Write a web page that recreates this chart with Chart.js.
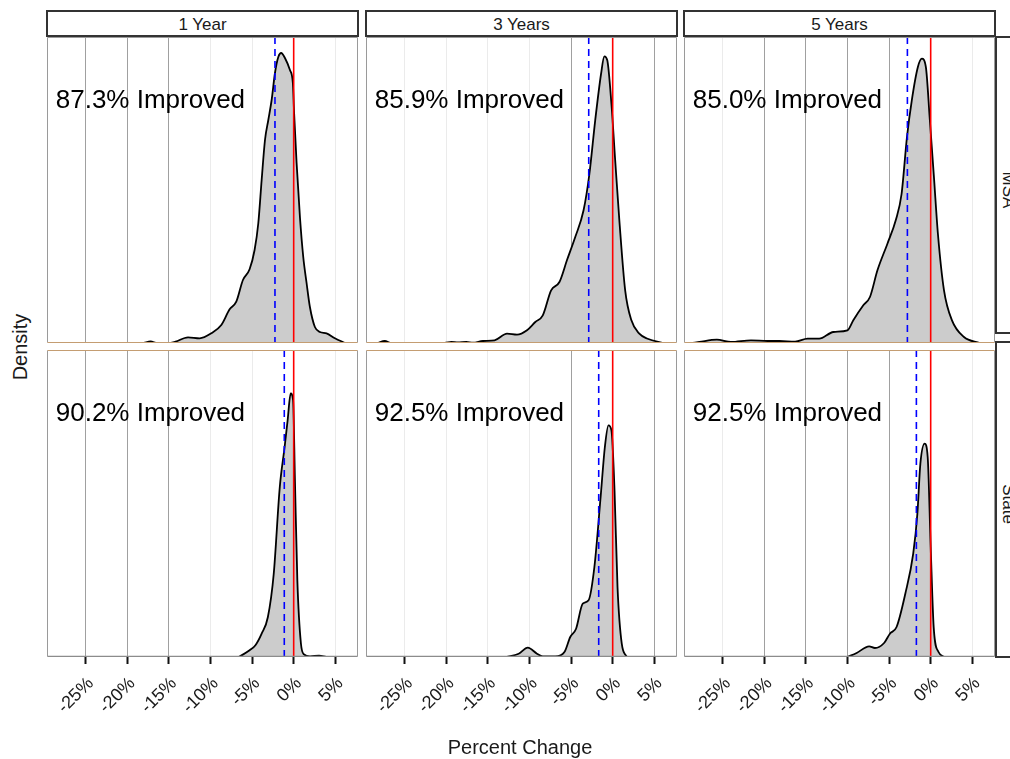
<!DOCTYPE html>
<html>
<head>
<meta charset="utf-8">
<title>Percent Change Density</title>
<script src="https://cdn.jsdelivr.net/npm/chart.js@4.4.1/dist/chart.umd.min.js"></script>
<style>
  html, body { margin: 0; padding: 0; background: #fff; }
  body {
    position: relative; width: 1010px; height: 759px; overflow: hidden;
    font-family: "Liberation Sans", Arial, sans-serif; color: #1a1a1a;
  }
  canvas, .strip, .rstrip, .txt { position: absolute; }
  .strip {
    top: 10px; height: 27px; box-sizing: border-box; border: 2px solid #333;
    background: #fff; font-size: 17px; line-height: 25px; text-align: center;
  }
  .rstrip { left: 995px; width: 30px; box-sizing: border-box; border: 2px solid #333; background: #fff; }
  .txt { white-space: nowrap; text-align: center; }
</style>
</head>
<body>
<script>
// Facet labels and shared axis values
var periods = ['1 Year', '3 Years', '5 Years'];
var regions = ['MSA', 'State'];
var xTicks = [-25, -20, -15, -10, -5, 0, 5];
var improvedPct = [87.3, 85.9, 85.0, 90.2, 92.5, 92.5];
var meanChange = [-2.25, -2.88, -2.80, -1.13, -1.68, -1.72];

// Density curves, one x/density pair per panel (row MSA, then State)
var msa1x = [-18.0, -17.2, -16.4, -14.8, -14.2, -12.7, -11.3, -9.9, -8.7, -7.7, -6.9, -6.1, -5.3, -4.7, -4.25, -3.85, -3.45, -3.05, -2.65, -2.25, -1.85, -1.5, -1.05, -0.45, -0.1, 0.05, 0.35, 0.75, 1.15, 1.55, 1.95, 2.55, 3.15, 3.95, 4.95, 6.2];
var msa1d = [0, 0.0015, 0, 0, 0.0013, 0.0057, 0.0047, 0.0097, 0.018, 0.0337, 0.0413, 0.063, 0.0737, 0.093, 0.12, 0.163, 0.203, 0.223, 0.243, 0.27, 0.286, 0.29, 0.285, 0.273, 0.26, 0.23, 0.18, 0.126, 0.086, 0.06, 0.036, 0.016, 0.011, 0.0097, 0.0047, 0];

var msa3x = [-28.2, -27.4, -26.6, -20.2, -19.4, -18.6, -17.6, -16.8, -15.6, -14.2, -12.7, -11.5, -10.3, -9.3, -8.4, -7.4, -6.4, -5.5, -4.5, -3.5, -2.8, -2.1, -1.4, -1.0, -0.65, -0.15, 0.3, 0.8, 1.5, 2.25, 3.2, 4.2, 6.1];
var msa3d = [0, 0.002, 0, 0, 0.001, 0.0005, 0.001, 0.0003, 0.002, 0.0027, 0.0093, 0.0083, 0.0127, 0.021, 0.0277, 0.0527, 0.061, 0.0827, 0.106, 0.1327, 0.169, 0.2227, 0.269, 0.2867, 0.2827, 0.239, 0.1827, 0.1227, 0.0527, 0.0227, 0.0093, 0.0043, 0];

var msa5x = [-28.6, -27.8, -25.7, -24.0, -21.6, -19.6, -18.2, -16.3, -14.8, -13.4, -11.7, -10.0, -9.3, -8.1, -7.3, -6.4, -5.2, -4.2, -3.5, -2.85, -2.27, -1.54, -1.06, -0.58, -0.1, 0.39, 0.87, 1.6, 2.56, 4.0, 5.9];
var msa5d = [0, 0.001, 0.0033, 0.001, 0.0027, 0.002, 0.002, 0.0013, 0.0043, 0.0043, 0.011, 0.0127, 0.0227, 0.0377, 0.046, 0.0727, 0.0993, 0.1227, 0.149, 0.206, 0.2427, 0.276, 0.2843, 0.276, 0.2227, 0.166, 0.109, 0.0527, 0.0227, 0.006, 0];

var state1x = [-6.6, -5.3, -4.6, -3.85, -3.1, -2.4, -1.67, -1.09, -0.73, -0.36, -0.07, 0.15, 0.44, 0.87, 1.24, 1.96, 3.05, 3.9];
var state1d = [0, 0.0134, 0.0234, 0.0466, 0.08, 0.166, 0.34, 0.42, 0.473, 0.527, 0.513, 0.353, 0.153, 0.027, 0.0054, 0.0014, 0.0026, 0];

var state3x = [-12.8, -11.3, -10.2, -9.1, -8.4, -6.9, -5.8, -5.1, -4.4, -3.6, -2.9, -2.2, -1.45, -0.94, -0.51, -0.15, 0.22, 0.58, 1.09, 1.7];
var state3d = [0, 0.0066, 0.0186, 0.0066, 0.0014, 0.0014, 0.01, 0.04, 0.0566, 0.1066, 0.1134, 0.18, 0.32, 0.42, 0.4634, 0.4534, 0.3334, 0.14, 0.0266, 0];

var state5x = [-10.0, -8.9, -7.4, -6.7, -5.6, -4.9, -4.1, -3.05, -2.1, -1.6, -1.24, -0.73, -0.36, 0, 0.36, 0.94, 1.7];
var state5d = [0, 0.008, 0.0214, 0.018, 0.028, 0.0466, 0.06, 0.1266, 0.2066, 0.2866, 0.3866, 0.4266, 0.4, 0.22, 0.06, 0.01, 0];

var curveX = [msa1x, msa3x, msa5x, state1x, state3x, state5x];
var curveD = [msa1d, msa3d, msa5d, state1d, state3d, state5d];

// Layout
var FONT = '"Liberation Sans", Arial, sans-serif';
var PANEL_LEFT = [47, 366, 684];
var PANEL_TOP = [37, 350];
var PANEL_W = 311;
var PANEL_H = [306, 307];
var AXIS_H = 80;
var X_MIN = -29.65, X_MAX = 7.73;
var Y_MAX = [0.306, 0.614];
var LABEL_X = -28.6;
var DARK_GRID = [[-25, -20, -15], [-5, 5], [-20, -15, -10, -5]];

function addText(txt, cx, cy, w, h, size, rot) {
    var d = document.createElement('div');
    d.className = 'txt';
    d.textContent = txt;
    d.style.left = (cx - w / 2) + 'px';
    d.style.top = (cy - h / 2) + 'px';
    d.style.width = w + 'px';
    d.style.height = h + 'px';
    d.style.lineHeight = h + 'px';
    d.style.fontSize = size + 'px';
    if (rot) d.style.transform = 'rotate(' + rot + 'deg)';
    document.body.appendChild(d);
}

// Reference lines, panel border and the "% Improved" note
var panelDecor = {
    id: 'panelDecor',
    afterDatasetsDraw: function (chart, args, opts) {
        var ctx = chart.ctx, a = chart.chartArea, xs = chart.scales.x;

        ctx.save();
        ctx.beginPath();
        ctx.rect(a.left, a.top, a.right - a.left, a.bottom - a.top);
        ctx.clip();

        var mx = xs.getPixelForValue(opts.mean);
        ctx.strokeStyle = '#0000ff';
        ctx.lineWidth = 1.6;
        ctx.setLineDash([7, 5]);
        ctx.beginPath();
        ctx.moveTo(mx, a.top);
        ctx.lineTo(mx, a.bottom);
        ctx.stroke();

        var zx = xs.getPixelForValue(0);
        ctx.strokeStyle = '#ff0000';
        ctx.setLineDash([]);
        ctx.beginPath();
        ctx.moveTo(zx, a.top);
        ctx.lineTo(zx, a.bottom);
        ctx.stroke();

        ctx.fillStyle = '#000';
        ctx.font = '26px ' + FONT;
        ctx.textBaseline = 'alphabetic';
        ctx.fillText(opts.label, xs.getPixelForValue(LABEL_X), a.top + 71);

        // border; the edges between the two rows are tinted
        var l = a.left + 0.5, r = a.right - 0.5, t = a.top + 0.5, b = a.bottom - 0.5;
        ctx.lineWidth = 1;
        ctx.strokeStyle = '#9a9a9a';
        ctx.beginPath();
        ctx.moveTo(l, t); ctx.lineTo(l, b);
        ctx.moveTo(r, t); ctx.lineTo(r, b);
        ctx.stroke();
        ctx.strokeStyle = opts.row === 0 ? '#9a9a9a' : '#c49d72';
        ctx.beginPath(); ctx.moveTo(l, t); ctx.lineTo(r, t); ctx.stroke();
        ctx.strokeStyle = opts.row === 0 ? '#c49d72' : '#8c8c8c';
        ctx.lineWidth = opts.row === 0 ? 1 : 1.3;
        ctx.beginPath(); ctx.moveTo(l, b); ctx.lineTo(r, b); ctx.stroke();
        ctx.restore();
    }
};

function makePanel(row, col) {
    var idx = row * 3 + col;
    var bottom = row === 1;
    var canvas = document.createElement('canvas');
    canvas.width = PANEL_W;
    canvas.height = PANEL_H[row] + (bottom ? AXIS_H : 0);
    canvas.style.left = PANEL_LEFT[col] + 'px';
    canvas.style.top = PANEL_TOP[row] + 'px';
    document.body.appendChild(canvas);

    var pts = curveX[idx].map(function (x, i) { return { x: x, y: curveD[idx][i] }; });

    new Chart(canvas, {
        type: 'line',
        data: {
            datasets: [{
                data: pts,
                fill: 'origin',
                backgroundColor: '#cccccc',
                borderColor: '#000000',
                borderWidth: 1.8,
                pointRadius: 0,
                cubicInterpolationMode: 'monotone'
            }]
        },
        options: {
            responsive: false,
            animation: false,
            layout: { padding: 0 },
            plugins: {
                legend: { display: false },
                tooltip: { enabled: false },
                panelDecor: {
                    row: row,
                    mean: meanChange[idx],
                    label: improvedPct[idx].toFixed(1) + '% Improved'
                }
            },
            scales: {
                x: {
                    type: 'linear',
                    min: X_MIN,
                    max: X_MAX,
                    afterBuildTicks: function (s) {
                        s.ticks = xTicks.map(function (v) { return { value: v }; });
                    },
                    afterFit: function (s) {
                        s.height = bottom ? AXIS_H : 0;
                        s.paddingLeft = 0;
                        s.paddingRight = 0;
                    },
                    border: { display: false },
                    grid: {
                        color: function (c) {
                            return DARK_GRID[col].indexOf(c.tick.value) >= 0 ? '#a0a0a0' : '#ebebeb';
                        },
                        lineWidth: 1,
                        drawTicks: bottom,
                        tickLength: 7,
                        tickColor: '#111111',
                        tickWidth: 2
                    },
                    ticks: {
                        display: bottom,
                        autoSkip: false,
                        minRotation: 45,
                        maxRotation: 45,
                        padding: 9,
                        labelOffset: 5,
                        color: '#1a1a1a',
                        font: { family: FONT, size: 18 },
                        callback: function (v) { return v + '%'; }
                    }
                },
                y: { display: false, min: 0, max: Y_MAX[row] }
            }
        },
        plugins: [panelDecor]
    });
}

// Top strips (periods) and right strips (regions)
periods.forEach(function (p, c) {
    var s = document.createElement('div');
    s.className = 'strip';
    s.style.left = (PANEL_LEFT[c] - 1) + 'px';
    s.style.width = (PANEL_W + 2) + 'px';
    s.textContent = p;
    document.body.appendChild(s);
});

[[36, 298], [341, 317]].forEach(function (box) {
    var s = document.createElement('div');
    s.className = 'rstrip';
    s.style.top = box[0] + 'px';
    s.style.height = box[1] + 'px';
    document.body.appendChild(s);
});
regions.forEach(function (r, i) {
    addText(r, 1008, PANEL_TOP[i] + PANEL_H[i] / 2, 120, 20, 17, 90);
});

for (var r = 0; r < 2; r++) {
    for (var c = 0; c < 3; c++) makePanel(r, c);
}

addText('Density', 20, 347, 120, 20, 20, -90);
addText('Percent Change', 520, 747, 240, 20, 20, 0);
</script>
</body>
</html>
